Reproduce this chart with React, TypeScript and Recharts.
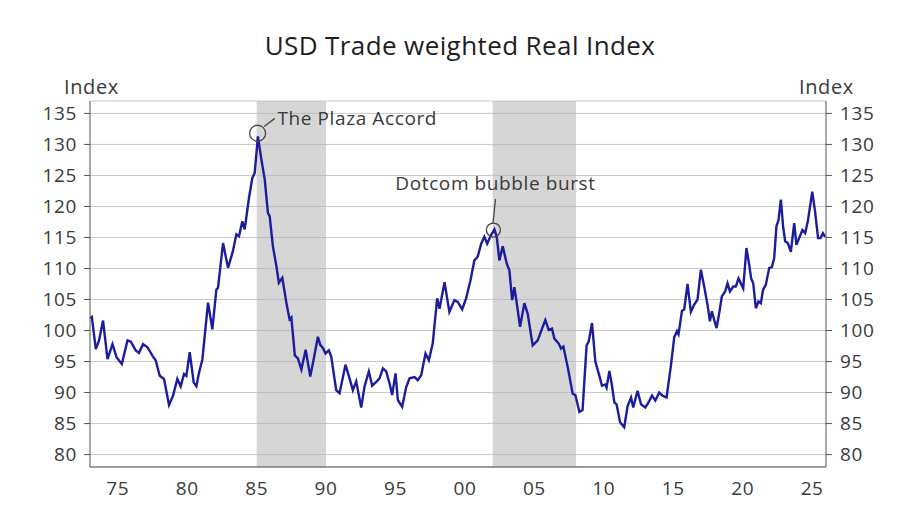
import React from 'react';
import {
  LineChart,
  Line,
  XAxis,
  YAxis,
  CartesianGrid,
  ReferenceArea,
  ReferenceDot,
  ReferenceLine,
} from 'recharts';

// Fecha en años decimales, valor del índice.
const dates = [
  1973.0, 1973.13, 1973.42, 1973.65, 1973.94, 1974.26, 1974.62, 1974.91, 1975.29, 1975.7,
  1975.94, 1976.29, 1976.53, 1976.82, 1977.14, 1977.5, 1977.73, 1978.02, 1978.33, 1978.69,
  1978.98, 1979.29, 1979.53, 1979.77, 1979.94, 1980.18, 1980.47, 1980.66, 1980.85, 1981.09,
  1981.5, 1981.81, 1982.1, 1982.22, 1982.58, 1982.94, 1983.29, 1983.54, 1983.73, 1983.97,
  1984.14, 1984.45, 1984.69, 1984.86, 1985.09, 1985.34, 1985.58, 1985.81, 1985.94, 1986.17,
  1986.42, 1986.6, 1986.85, 1987.14, 1987.37, 1987.5, 1987.75, 1987.97, 1988.22, 1988.53,
  1988.86, 1989.17, 1989.41, 1989.58, 1989.77, 1989.96, 1990.2, 1990.37, 1990.73, 1990.97,
  1991.4, 1991.69, 1991.93, 1992.17, 1992.53, 1992.77, 1993.08, 1993.32, 1993.65, 1993.85,
  1994.09, 1994.33, 1994.57, 1994.76, 1995.0, 1995.17, 1995.48, 1995.77, 1996.01, 1996.37,
  1996.6, 1996.85, 1997.16, 1997.4, 1997.68, 1998.0, 1998.17, 1998.53, 1998.88, 1999.24,
  1999.48, 1999.8, 2000.09, 2000.4, 2000.68, 2000.92, 2001.17, 2001.4, 2001.6, 2001.88,
  2002.12, 2002.29, 2002.48, 2002.72, 2003.01, 2003.2, 2003.4, 2003.56, 2003.73, 2003.97,
  2004.28, 2004.52, 2004.88, 2005.24, 2005.55, 2005.79, 2006.03, 2006.27, 2006.44, 2006.75,
  2006.92, 2007.09, 2007.4, 2007.76, 2007.95, 2008.24, 2008.47, 2008.76, 2008.91, 2009.15,
  2009.39, 2009.68, 2009.87, 2010.11, 2010.2, 2010.4, 2010.59, 2010.76, 2010.92, 2011.17,
  2011.47, 2011.71, 2011.96, 2012.12, 2012.43, 2012.68, 2012.99, 2013.22, 2013.47, 2013.71,
  2013.99, 2014.23, 2014.52, 2014.83, 2015.07, 2015.27, 2015.38, 2015.63, 2015.79, 2016.03,
  2016.27, 2016.51, 2016.75, 2016.99, 2017.23, 2017.47, 2017.64, 2017.78, 2017.95, 2018.12,
  2018.31, 2018.5, 2018.74, 2018.91, 2019.08, 2019.32, 2019.51, 2019.7, 2019.87, 2020.04,
  2020.27, 2020.47, 2020.61, 2020.76, 2020.95, 2021.14, 2021.31, 2021.47, 2021.67, 2021.91,
  2022.1, 2022.27, 2022.43, 2022.58, 2022.75, 2022.91, 2023.06, 2023.25, 2023.47, 2023.71,
  2023.87, 2024.12, 2024.3, 2024.5, 2024.69, 2024.83, 2025.01, 2025.21, 2025.43, 2025.6,
  2025.78, 2025.94,
];

const usdIndex = [
  102.0, 102.2, 97.0, 98.4, 101.6, 95.4, 97.8, 95.7, 94.6, 98.4,
  98.2, 96.8, 96.4, 97.8, 97.3, 95.9, 95.2, 92.7, 92.2, 88.0,
  89.5, 92.2, 91.0, 93.0, 92.7, 96.5, 91.6, 91.0, 93.2, 95.3,
  104.5, 100.2, 106.6, 106.9, 114.1, 110.1, 112.8, 115.5, 115.2, 117.6,
  116.3, 121.4, 124.6, 125.4, 131.3, 127.6, 124.4, 119.0, 118.4, 113.6,
  110.4, 107.7, 108.5, 104.5, 101.8, 102.1, 96.0, 95.5, 93.7, 96.9,
  92.6, 96.1, 99.0, 97.7, 97.2, 96.3, 96.8, 95.8, 90.4, 89.9,
  94.5, 92.3, 90.4, 91.8, 87.6, 91.0, 93.4, 91.1, 91.8, 92.3,
  93.9, 93.4, 91.5, 89.6, 93.1, 88.8, 87.7, 90.9, 92.3, 92.5,
  92.0, 92.8, 96.3, 95.2, 97.9, 105.2, 103.5, 107.8, 103.0, 104.9,
  104.6, 103.4, 105.2, 108.1, 111.3, 111.9, 114.0, 115.1, 114.0, 115.4,
  116.3, 115.1, 111.3, 113.6, 110.8, 109.7, 104.9, 107.0, 104.4, 100.6,
  104.4, 102.7, 97.6, 98.4, 100.3, 101.7, 100.1, 100.3, 98.7, 97.9,
  97.1, 97.4, 94.1, 89.8, 89.6, 86.9, 87.2, 97.6, 98.2, 101.2,
  95.0, 92.7, 91.1, 91.3, 90.8, 93.5, 91.1, 88.4, 88.1, 85.2,
  84.4, 87.8, 89.2, 87.6, 90.3, 88.1, 87.6, 88.4, 89.5, 88.7,
  90.0, 89.5, 89.2, 94.3, 98.9, 99.9, 99.4, 103.2, 103.4, 107.5,
  103.0, 104.2, 105.0, 109.8, 107.1, 104.1, 101.5, 103.1, 101.7, 100.4,
  102.8, 105.5, 106.3, 107.6, 106.3, 107.1, 107.1, 108.4, 107.6, 106.8,
  113.3, 110.6, 108.4, 107.6, 103.6, 104.7, 104.4, 106.6, 107.4, 110.1,
  110.2, 111.7, 116.8, 117.8, 121.1, 116.8, 114.4, 114.1, 112.7, 117.3,
  113.8, 115.2, 116.2, 115.7, 117.6, 119.7, 122.4, 119.2, 114.9, 114.9,
  115.7, 115.1,
];

const xTicks = [1975, 1980, 1985, 1990, 1995, 2000, 2005, 2010, 2015, 2020, 2025];
const yTicks = [80, 85, 90, 95, 100, 105, 110, 115, 120, 125, 130, 135];

// Periodos sombreados (inicio, fin)
const shadedStart = [1985, 2002];
const shadedEnd = [1990, 2008];

const data = dates.map((t, i) => ({ t, v: usdIndex[i] }));

const TEXT = '#3a3a3a';
const FONT = '"Open Sans", sans-serif';

const tickStyle = { fontSize: 19, fill: TEXT, fontFamily: FONT, letterSpacing: 0.6 };

export default function App() {
  return (
    <div
      style={{
        position: 'absolute',
        left: 0,
        top: 0,
        width: 900,
        height: 510,
        background: '#fff',
        fontFamily: FONT,
      }}
    >
      <div
        style={{
          position: 'absolute',
          top: 29,
          left: 20,
          width: 880,
          textAlign: 'center',
          fontSize: 26,
          letterSpacing: 0.4,
          color: '#1e1e1e',
          lineHeight: '32px',
        }}
      >
        USD Trade weighted Real Index
      </div>
      <div style={{ position: 'absolute', top: 74, left: 64, fontSize: 20, letterSpacing: 0.6, color: TEXT, lineHeight: '26px' }}>
        Index
      </div>
      <div style={{ position: 'absolute', top: 74, left: 799, fontSize: 20, letterSpacing: 0.6, color: TEXT, lineHeight: '26px' }}>
        Index
      </div>

      <LineChart
        width={900}
        height={510}
        data={data}
        margin={{ top: 101, right: 0, bottom: 0, left: 0 }}
        style={{ position: 'absolute', left: 0, top: 0 }}
      >
        <CartesianGrid yAxisId="left" vertical={false} stroke="#c9c9c9" />
        {shadedStart.map((s, i) => (
          <ReferenceArea
            key={s}
            yAxisId="left"
            x1={s}
            x2={shadedEnd[i]}
            fill="#b4b4b4"
            fillOpacity={0.55}
            stroke="none"
          />
        ))}
        <XAxis
          dataKey="t"
          type="number"
          domain={[1973, 2026]}
          ticks={xTicks}
          tickFormatter={(y: number) => String(y % 100).padStart(2, '0')}
          tick={tickStyle}
          tickLine={false}
          tickSize={6}
          tickMargin={9}
          height={43}
          axisLine={{ stroke: '#555' }}
          allowDataOverflow
        />
        <YAxis
          yAxisId="left"
          domain={[78, 137]}
          ticks={yTicks}
          width={90}
          tick={tickStyle}
          tickSize={6}
          tickMargin={7}
          tickLine={{ stroke: '#555' }}
          axisLine={{ stroke: '#555' }}
          allowDataOverflow
        />
        <YAxis
          yAxisId="right"
          orientation="right"
          domain={[78, 137]}
          ticks={yTicks}
          width={74}
          tick={tickStyle}
          tickSize={6}
          tickMargin={8}
          tickLine={{ stroke: '#555' }}
          axisLine={{ stroke: '#555' }}
          allowDataOverflow
        />
        <Line
          yAxisId="left"
          type="linear"
          dataKey="v"
          stroke="#1c1c9f"
          strokeWidth={2.4}
          dot={false}
          isAnimationActive={false}
        />

        {/* Anotación: Acuerdo Plaza */}
        <ReferenceDot yAxisId="left" x={1985.07} y={131.8} r={8} fill="none" stroke="#444" strokeWidth={1.3} />
        <ReferenceLine
          yAxisId="left"
          segment={[{ x: 1985.55, y: 132.9 }, { x: 1986.3, y: 134.2 }]}
          stroke="#444"
          strokeWidth={1.3}
        />
        <ReferenceDot
          yAxisId="left"
          x={1986.5}
          y={134.2}
          r={0}
          shape={(p: any) => (
            <text x={p.cx} y={p.cy} dy="0.35em" fontSize={19} letterSpacing={0.6} fill={TEXT} fontFamily={FONT} textAnchor="start">
              The Plaza Accord
            </text>
          )}
        />

        {/* Anotación: burbuja puntocom */}
        <ReferenceDot yAxisId="left" x={2002.05} y={116.2} r={7} fill="none" stroke="#444" strokeWidth={1.3} />
        <ReferenceLine
          yAxisId="left"
          segment={[{ x: 2002.02, y: 117.3 }, { x: 2002.2, y: 121.2 }]}
          stroke="#444"
          strokeWidth={1.3}
        />
        <ReferenceDot
          yAxisId="left"
          x={2002.2}
          y={123.7}
          r={0}
          shape={(p: any) => (
            <text x={p.cx} y={p.cy} dy="0.35em" fontSize={19} letterSpacing={0.6} fill={TEXT} fontFamily={FONT} textAnchor="middle">
              Dotcom bubble burst
            </text>
          )}
        />
      </LineChart>
    </div>
  );
}
